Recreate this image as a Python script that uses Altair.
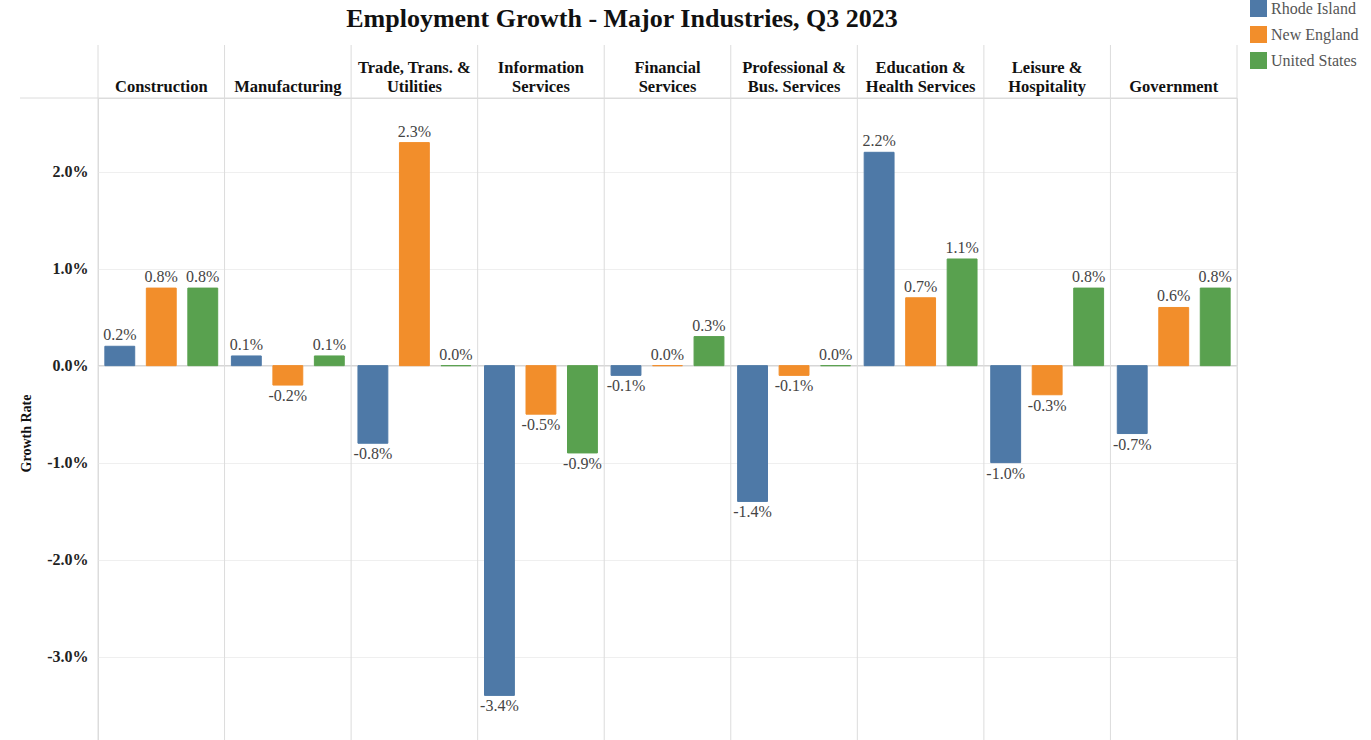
import altair as alt
import pandas as pd

title_text = "Employment Growth - Major Industries, Q3 2023"
industries = [
    "Construction",
    "Manufacturing",
    "Trade, Trans. & Utilities",
    "Information Services",
    "Financial Services",
    "Professional & Bus. Services",
    "Education & Health Services",
    "Leisure & Hospitality",
    "Government",
]
header_line1 = ["", "", "Trade, Trans. &", "Information", "Financial", "Professional &",
                "Education &", "Leisure &", ""]
header_line2 = ["Construction", "Manufacturing", "Utilities", "Services", "Services",
                "Bus. Services", "Health Services", "Hospitality", "Government"]
regions = ["Rhode Island", "New England", "United States"]
rhode_island = [0.2, 0.1, -0.8, -3.4, -0.1, -1.4, 2.2, -1.0, -0.7]
new_england = [0.8, -0.2, 2.3, -0.5, 0.0, -0.1, 0.7, -0.3, 0.6]
united_states = [0.8, 0.1, 0.0, -0.9, 0.3, 0.0, 1.1, 0.8, 0.8]
colors = ["#4e79a7", "#f28e2b", "#59a14f"]
y_ticks = [-0.03, -0.02, -0.01, 0.0, 0.01, 0.02]

rows = []
for series, name in zip([rhode_island, new_england, united_states], regions):
    for ind, v in zip(industries, series):
        rows.append({"industry": ind, "region": name, "pct": v, "value": v / 100})
df = pd.DataFrame(rows)
hdr = pd.DataFrame({"industry": industries, "line1": header_line1, "line2": header_line2})

W, H = 1139, 642
SERIF = "Liberation Serif"
FMT = "replace(format(datum.value, '.1%'), '\u2212', '-')"

yscale = alt.Scale(domain=[-0.0386, 0.0276], nice=False, zero=False)
xscale = alt.Scale(paddingInner=0, paddingOuter=0)
cscale = alt.Scale(domain=regions, range=colors)
X = alt.X("industry:N", sort=industries, scale=xscale, axis=None)

base = alt.Chart(df)

bars = base.mark_bar(strokeWidth=1).encode(
    x=X,
    xOffset=alt.XOffset(
        "region:N", sort=regions, scale=alt.Scale(paddingInner=0.28, paddingOuter=0.165)
    ),
    y=alt.Y(
        "value:Q",
        scale=yscale,
        axis=alt.Axis(
            values=y_ticks,
            labelExpr=FMT,
            title="Growth Rate",
            titleFont=SERIF,
            titleFontSize=14,
            titleFontWeight="bold",
            titleColor="#111",
            titleAngle=-90,
            titleX=-72,
            titleY=335,
            titleAlign="center",
            titleBaseline="middle",
            labelFont=SERIF,
            labelFontSize=16,
            labelFontWeight="bold",
            labelColor="#222",
            labelPadding=10,
            domain=False,
            ticks=False,
            gridColor="#efefef",
        ),
    ),
    color=alt.Color(
        "region:N",
        sort=regions,
        scale=cscale,
        legend=alt.Legend(
            title=None,
            orient="none",
            legendX=1152,
            legendY=-98,
            symbolType="square",
            symbolSize=289,
            symbolStrokeWidth=0,
            labelFont=SERIF,
            labelFontSize=16,
            labelColor="#555",
            rowPadding=9,
            padding=0,
        ),
    ),
    stroke=alt.Stroke("region:N", sort=regions, scale=cscale, legend=None),
)

text_base = base.transform_calculate(label=FMT)

pos_text = text_base.transform_filter("datum.pct >= 0").mark_text(
    baseline="bottom", dy=-3, font=SERIF, fontSize=16, color="#444"
).encode(
    x=X,
    xOffset=alt.XOffset("region:N", sort=regions),
    y=alt.Y("value:Q", scale=yscale),
    text="label:N",
)

neg_text = text_base.transform_filter("datum.pct < 0").mark_text(
    baseline="top", dy=3, font=SERIF, fontSize=16, color="#444"
).encode(
    x=X,
    xOffset=alt.XOffset("region:N", sort=regions),
    y=alt.Y("value:Q", scale=yscale),
    text="label:N",
)

hdr_base = alt.Chart(hdr)
hdr1 = hdr_base.mark_text(
    baseline="alphabetic", font=SERIF, fontSize=16.5, fontWeight="bold", color="#111"
).encode(x=X, y=alt.value(-25), text="line1:N")
hdr2 = hdr_base.mark_text(
    baseline="alphabetic", font=SERIF, fontSize=16.5, fontWeight="bold", color="#111"
).encode(x=X, y=alt.value(-6), text="line2:N")

title_mark = alt.Chart(pd.DataFrame({"t": [title_text]})).mark_text(
    baseline="alphabetic", align="center", font=SERIF, fontSize=26, fontWeight="bold",
    color="#111"
).encode(x=alt.value(524), y=alt.value(-71), text="t:N")

zero_line = alt.Chart(pd.DataFrame({"v": [0.0]})).mark_rule(color="#cfcfcf").encode(
    y=alt.Y("v:Q", scale=yscale)
)

seps = hdr_base.mark_rule(color="#dcdcdc").encode(
    x=alt.X("industry:N", sort=industries, scale=xscale, bandPosition=0, axis=None),
    y=alt.value(-53),
    y2=alt.value(H),
)

right_edge = alt.Chart(hdr.iloc[-1:]).mark_rule(color="#dcdcdc").encode(
    x=alt.value(W), y=alt.value(-53), y2=alt.value(H)
)

header_line = alt.Chart(hdr.iloc[:1]).mark_rule(color="#dcdcdc").encode(
    x=alt.value(-78), x2=alt.value(W), y=alt.value(0)
)

chart = (
    alt.layer(zero_line, seps, right_edge, header_line, bars, pos_text, neg_text,
              hdr1, hdr2, title_mark)
    .properties(
        width=W,
        height=H,
        autosize=alt.AutoSizeParams(type="none"),
        padding={"left": 98, "top": 98, "right": 134, "bottom": 0},
    )
    .configure_view(stroke="#dcdcdc")
    .configure(background="white")
)

chart.save("out.html", embed_options={"renderer": "svg", "actions": False})
